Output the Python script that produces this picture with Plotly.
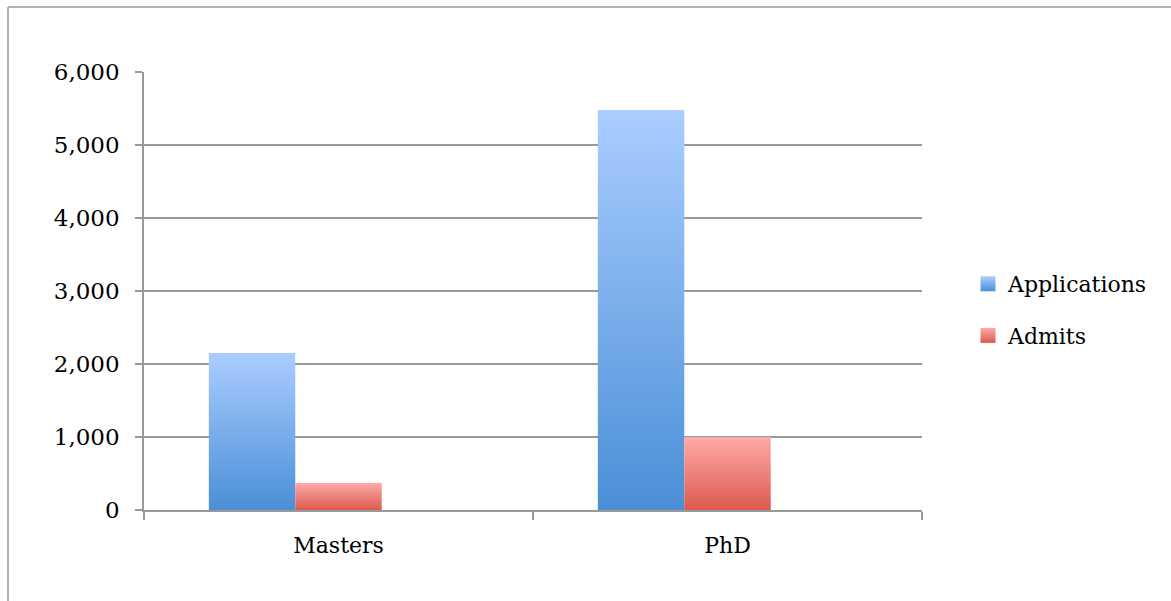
import plotly.graph_objects as go

# Graduate admissions: applications vs. admits by degree program
categories = ["Masters", "PhD"]
applications = [2150, 5480]
admits = [370, 1000]

series_names = ["Applications", "Admits"]
series_values = [applications, admits]
# (bottom colour, top colour) for each series' vertical gradient
series_gradients = [("#4a8fd7", "#aacdff"), ("#db5a4e", "#ffaaa8")]

FONT = "DejaVu Serif"
GRID = "#999999"
TEXT = "#000000"

# Excel-like clustered layout: three slots per category, 150% gap width
slot = 1 / 4.5
group_left = -1.5 * slot

fig = go.Figure()

for s, (name, values, (c_bottom, c_top)) in enumerate(zip(series_names, series_values, series_gradients)):
    for i, v in enumerate(values):
        left = i + group_left + s * slot
        right = left + slot
        fig.add_trace(go.Scatter(
            x=[left, right, right, left, left],
            y=[0, 0, v, v, 0],
            mode="none",
            fill="toself",
            fillgradient=dict(type="vertical", colorscale=[[0, c_bottom], [1, c_top]]),
            showlegend=False,
            hoverinfo="skip",
            name=name,
        ))
    # legend entry with a gradient square
    fig.add_trace(go.Scatter(
        x=[None], y=[None], mode="markers", name=name,
        marker=dict(symbol="square", size=15, color=c_top,
                    gradient=dict(type="vertical", color=c_bottom), line=dict(width=0)),
        legendgroup=name, showlegend=True,
    ))

# category axis carrying the labels and boundary ticks
fig.add_trace(go.Scatter(x=categories, y=[None, None], xaxis="x2", mode="none",
                         showlegend=False, hoverinfo="skip"))

px_l, px_r, px_t, px_b = 144, 922, 72, 510
def paper_x(px):
    return (px - px_l) / (px_r - px_l)
def paper_y(py):
    return (px_b - py) / (px_b - px_t)

fig.update_layout(
    width=1171, height=601,
    margin=dict(l=px_l, r=1171 - px_r, t=px_t, b=601 - px_b, pad=0),
    paper_bgcolor="white", plot_bgcolor="white",
    font=dict(family=FONT, size=22, color=TEXT),
    showlegend=True,
    legend=dict(x=paper_x(968), y=paper_y(263), xanchor="left", yanchor="top",
                font=dict(family=FONT, size=22, color=TEXT),
                traceorder="grouped", tracegroupgap=20, itemwidth=30,
                bgcolor="rgba(0,0,0,0)"),
    xaxis=dict(range=[-0.5, 1.5], visible=False, fixedrange=True),
    xaxis2=dict(type="category", categoryarray=categories, range=[-0.5, 1.5],
                overlaying="x", anchor="y", side="bottom",
                tickson="boundaries", ticks="outside", ticklen=8, tickwidth=1.5,
                tickcolor=GRID, showline=True, linecolor=GRID, linewidth=1.5,
                showgrid=False, ticklabelstandoff=15,
                tickfont=dict(family=FONT, size=22, color=TEXT)),
    yaxis=dict(range=[0, 6000], dtick=1000, tickformat=",", showgrid=True,
               gridcolor=GRID, gridwidth=1.5, zeroline=False,
               ticks="outside", ticklen=7, tickwidth=1.5, tickcolor=GRID,
               showline=True, linecolor=GRID, linewidth=1.5,
               ticklabelstandoff=11,
               tickfont=dict(family=FONT, size=23, color=TEXT)),
    shapes=[
        dict(type="line", xref="paper", yref="paper",
             x0=paper_x(8), x1=paper_x(1180), y0=paper_y(7), y1=paper_y(7),
             line=dict(color=GRID, width=1.5)),
        dict(type="line", xref="paper", yref="paper",
             x0=paper_x(8), x1=paper_x(8), y0=paper_y(7), y1=paper_y(620),
             line=dict(color=GRID, width=1.5)),
    ],
)

fig.write_html("out.html")
